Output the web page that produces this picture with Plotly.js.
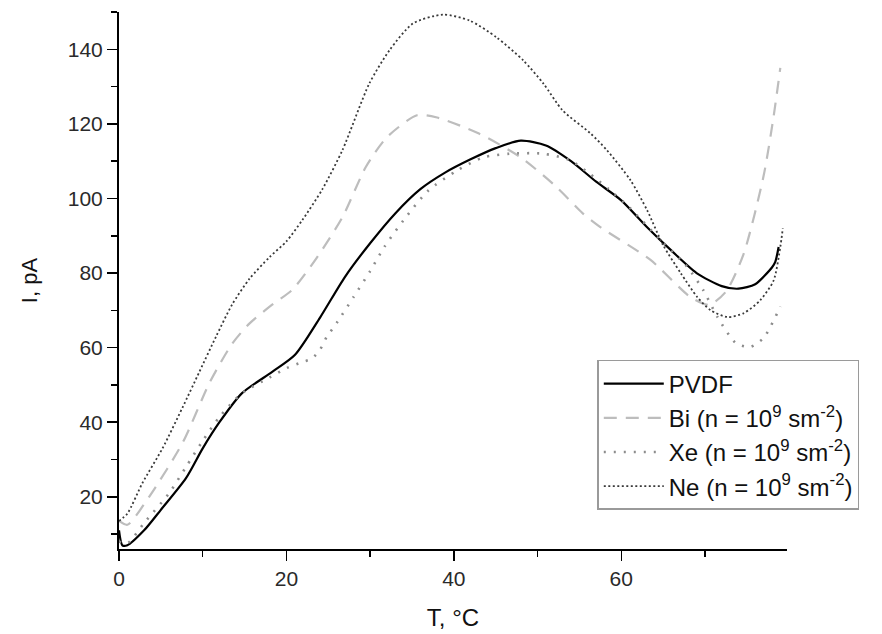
<!DOCTYPE html>
<html>
<head>
<meta charset="utf-8">
<script src="https://cdn.plot.ly/plotly-3.0.1.min.js"></script>
<style>
html,body{margin:0;padding:0;background:#fff;}
#chart{width:882px;height:634px;}
</style>
</head>
<body>
<div id="chart"></div>
<script>
// Temperature (°C) and current (pA)
var pvdfT = [0, 0.4, 1, 3, 5, 8, 10, 12, 14.7, 18.3, 21, 24, 27, 30, 33, 36, 39, 42, 45, 48, 51, 54, 57, 60, 63, 66, 69, 72, 74, 76, 78, 78.4, 78.8];
var pvdfI = [11, 7, 7, 11, 16.5, 25, 33, 40, 47.8, 53.5, 58, 68, 79, 88, 96, 102.5, 107, 110.5, 113.5, 115.5, 114.2, 110, 104.5, 99.5, 92.5, 86, 80, 76.5, 75.8, 77, 81.5, 83, 87];

var biT = [0, 1, 3.6, 7.6, 10.8, 13.5, 15.6, 18.3, 20.7, 23.6, 26.7, 29.5, 32, 35.6, 38, 43, 48, 52.3, 55.4, 57.5, 63.5, 68.3, 70.5, 72.5, 74.6, 77, 78.2, 79];
var biI = [13.5, 12.5, 20, 34.5, 50.5, 61, 66.5, 71.5, 75.5, 84, 95, 108.5, 116.4, 122.3, 121.7, 117.4, 111, 103, 96, 92.3, 83.5, 73.5, 71.5, 75, 85, 106, 122, 135];

var xeT = [0, 1, 3, 6, 8, 10, 12, 14.7, 18, 20, 22, 23, 24, 24.8, 26, 28, 30, 31.7, 34, 37, 40.4, 43.5, 46.7, 50.7, 53.9, 56, 58.5, 61, 64.7, 67.9, 69.8, 71.5, 73.7, 75.4, 77, 78.8, 79];
var xeI = [8, 7.5, 13, 21, 28, 35, 41.4, 47.8, 52, 54.5, 56.2, 57, 59.4, 62.8, 66.6, 73.5, 80.5, 87, 94.2, 102.2, 107.5, 111, 112, 112, 110.2, 107, 102.5, 97.5, 88.8, 81.6, 75.4, 68.2, 61.2, 60.2, 62.6, 70, 71];

var neT = [0, 1, 2.8, 5.2, 7.6, 9.6, 11.6, 13.5, 15.6, 18, 20, 21.9, 24.3, 26.7, 29.9, 32.3, 35.1, 38.7, 41.9, 45.1, 48.3, 50.7, 53, 56.3, 58.3, 61.1, 63.1, 65, 67.1, 69.1, 70.7, 72.7, 74.6, 76.6, 78.2, 79, 79.3];
var neI = [13.5, 15.5, 23.7, 33, 44, 53.5, 63, 71.5, 78.5, 84.3, 88.5, 94.2, 102.5, 113, 130.8, 139.7, 146.9, 149.3, 147.7, 143.2, 137, 130.8, 123.6, 117.5, 112.9, 104.9, 96.8, 87.5, 80, 73.5, 70, 68.2, 69.2, 72.7, 78, 87, 92];

var seriesNames = ['PVDF', 'Bi (n = 10<sup>9</sup> sm<sup>-2</sup>)', 'Xe (n = 10<sup>9</sup> sm<sup>-2</sup>)', 'Ne (n = 10<sup>9</sup> sm<sup>-2</sup>)'];
var xTickVals = [0, 20, 40, 60];
var yTickVals = [20, 40, 60, 80, 100, 120, 140];

var FONT = 'Liberation Sans, Arial, sans-serif';

var traces = [
  {x: pvdfT, y: pvdfI, name: seriesNames[0], mode: 'lines',
   line: {color: '#000000', width: 2.2, shape: 'spline', smoothing: 0.7}},
  {x: biT, y: biI, name: seriesNames[1], mode: 'lines',
   line: {color: '#bdbdbd', width: 2.2, dash: '13px,9px', shape: 'spline', smoothing: 0.7}},
  {x: xeT, y: xeI, name: seriesNames[2], mode: 'lines',
   line: {color: '#8c8c8c', width: 2.6, dash: '2px,8px', shape: 'spline', smoothing: 0.7}},
  {x: neT, y: neI, name: seriesNames[3], mode: 'lines',
   line: {color: '#3a3a3a', width: 1.8, dash: '2px,2.5px', shape: 'spline', smoothing: 0.7}}
];

var layout = {
  width: 882, height: 634,
  margin: {l: 119, r: 95, t: 12, b: 85},
  paper_bgcolor: '#ffffff', plot_bgcolor: '#ffffff',
  font: {family: FONT, color: '#1a1a1a', size: 21},
  showlegend: true,
  xaxis: {
    range: [0, 79.8], showgrid: false, zeroline: false,
    showline: true, linecolor: '#000', linewidth: 2,
    ticks: 'outside', ticklen: 10, tickwidth: 1.5, tickcolor: '#000',
    tickmode: 'array', tickvals: xTickVals,
    minor: {dtick: 10, tick0: 0, ticks: 'outside', ticklen: 6, tickwidth: 1.5, tickcolor: '#000'},
    tickfont: {size: 21, family: FONT, color: '#2a2a2a'},
    title: {text: 'T, °C', font: {size: 24, family: FONT, color: '#111'}, standoff: 20}
  },
  yaxis: {
    range: [6, 150], showgrid: false, zeroline: false,
    showline: true, linecolor: '#000', linewidth: 2,
    ticks: 'outside', ticklen: 10, tickwidth: 1.5, tickcolor: '#000',
    tickmode: 'array', tickvals: yTickVals,
    minor: {dtick: 10, tick0: 0, ticks: 'outside', ticklen: 6, tickwidth: 1.5, tickcolor: '#000'},
    tickfont: {size: 21, family: FONT, color: '#2a2a2a'},
    title: {text: 'I, pA', font: {size: 22, family: FONT, color: '#111'}, standoff: 24}
  },
  legend: {
    x: 0.716, y: 0.352, xanchor: 'left', yanchor: 'top',
    bgcolor: '#ffffff', bordercolor: '#9a9a9a', borderwidth: 1.5,
    font: {size: 24, family: FONT, color: '#111'},
    itemwidth: 60, tracegroupgap: 0
  }
};

Plotly.newPlot('chart', traces, layout, {displayModeBar: false, staticPlot: true});
</script>
</body>
</html>
